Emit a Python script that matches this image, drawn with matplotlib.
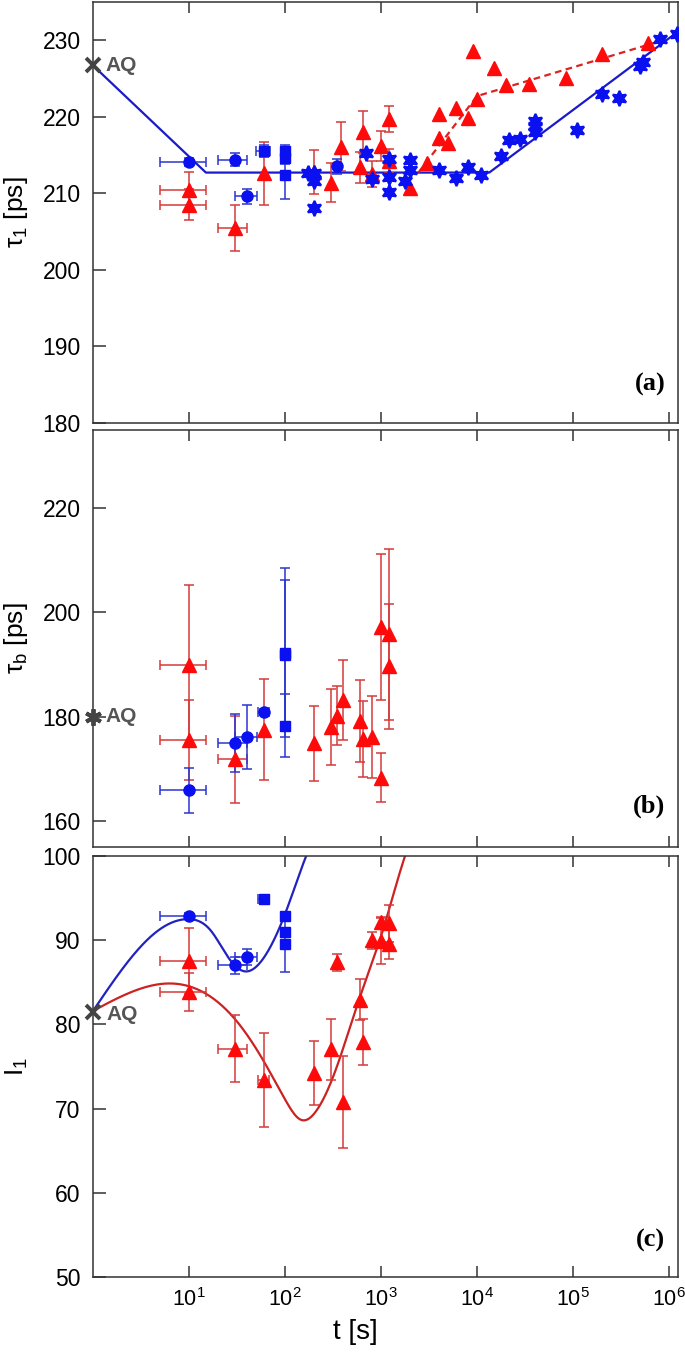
import numpy as np
import matplotlib
matplotlib.use("Agg")
import matplotlib.pyplot as plt

plt.rcParams['font.family'] = ['Liberation Sans', 'DejaVu Sans']
plt.rcParams['mathtext.fontset'] = 'custom'
plt.rcParams['mathtext.rm'] = 'Liberation Sans'
plt.rcParams['mathtext.it'] = 'Liberation Sans'
plt.rcParams['mathtext.bf'] = 'Liberation Sans:bold'

# ---------------- Panel (a): tau_1 ----------------
a_blue_circ_t = [10, 30, 40, 350]
a_blue_circ_v = [214.1, 214.4, 209.6, 213.5]
a_blue_circ_ye = [0.5, 0.9, 1.0, 1.0]
a_blue_circ_xlo = [5, 10, 10, 0]
a_blue_circ_xhi = [5, 10, 10.7, 0]

a_blue_sq_t = [60, 100, 100, 100]
a_blue_sq_v = [215.5, 215.5, 214.6, 212.4]
a_blue_sq_ye = [0.8, 0.8, 0.8, 3.1]
a_blue_sq_xlo = [10, 0, 0, 0]
a_blue_sq_xhi = [10, 0, 0, 0]

a_blue_star_t = [175, 200, 200, 200, 700, 800, 1200, 1200, 1200, 1770, 2000, 2000,
                 4000, 6000, 8000, 11000, 17700, 21500, 28000, 40000, 40000, 40000,
                 110000, 200000, 300000, 500000, 540000, 800000, 1200000]
a_blue_star_v = [212.6, 212.6, 211.6, 208.1, 215.3, 211.8, 214.5, 212.1, 210.1, 211.6, 214.3, 213.0,
                 213.1, 212.0, 213.4, 212.4, 214.9, 216.9, 217.1, 219.5, 218.8, 218.0,
                 218.3, 223.0, 222.5, 226.6, 227.1, 230.1, 230.8]

a_red_t = [10, 10, 30, 60, 200, 300, 380, 600, 650, 800, 1000, 1200, 1200,
           2000, 3000, 4000, 4000, 5000, 6000, 8000, 9000, 10000, 15000, 20000,
           35000, 85000, 200000, 600000]
a_red_v = [210.4, 208.5, 205.5, 212.6, 212.8, 211.4, 216.1, 213.4, 218.0, 212.5, 216.2, 219.7, 214.2,
           210.7, 213.9, 220.3, 217.2, 216.6, 221.2, 219.9, 228.6, 222.3, 226.4, 224.1,
           224.3, 225.1, 228.2, 229.6]
a_red_ye = [2.4, 2.0, 3.0, 4.1, 2.9, 2.5, 3.2, 2.0, 2.8, 1.7, 2.0, 1.7, 1.6,
            0, 0, 0, 0, 0, 0, 0, 0, 0, 0, 0, 0, 0, 0, 0]
a_red_xlo = [5, 5, 10] + [0] * 25
a_red_xhi = [5, 5, 10] + [0] * 25

a_fit_blue_t = [1, 15, 13400, 1.2e6]
a_fit_blue_v = [226.7, 212.7, 212.7, 231.0]
a_fit_red_t = [2450, 10000, 8.7e5]
a_fit_red_v = [212.7, 222.7, 230.0]
a_AQ = 226.7

# ---------------- Panel (b): tau_b ----------------
b_red_t = [10, 10, 30, 60, 200, 300, 350, 400, 600, 650, 800, 1000, 1000, 1200, 1200]
b_red_v = [189.9, 175.5, 171.8, 177.5, 174.9, 178.0, 180.2, 183.2, 179.2, 175.8, 176.1,
           197.2, 168.3, 195.8, 189.7]
b_red_ye = [15.3, 7.7, 8.4, 9.7, 7.2, 7.3, 5.6, 7.6, 7.8, 7.3, 7.8, 14.0, 4.7, 16.4, 12.0]
b_red_xlo = [5, 5, 10] + [0] * 12
b_red_xhi = [5, 5, 10] + [0] * 12

b_blue_circ_t = [10, 30, 40, 60]
b_blue_circ_v = [165.9, 174.9, 176.1, 180.9]
b_blue_circ_ye = [4.3, 5.6, 6.2, 0.5]
b_blue_circ_xlo = [5, 10, 10, 8]
b_blue_circ_xhi = [5, 10, 10.7, 8]

b_blue_sq_t = [100, 100, 100]
b_blue_sq_v = [192.3, 191.8, 178.3]
b_blue_sq_ye = [16.2, 14.5, 6.0]
b_AQ = 180.0

# ---------------- Panel (c): I_1 ----------------
c_blue_circ_t = [10, 30, 40]
c_blue_circ_v = [92.9, 87.0, 88.0]
c_blue_circ_ye = [0.3, 1.0, 0.9]
c_blue_circ_xlo = [5, 10, 10]
c_blue_circ_xhi = [5, 10, 10.7]

c_blue_sq_t = [60, 100, 100, 100]
c_blue_sq_v = [94.85, 92.9, 91.0, 89.6]
c_blue_sq_ye = [0.3, 0.5, 0.5, 3.4]
c_blue_sq_xlo = [8, 0, 0, 0]
c_blue_sq_xhi = [8, 0, 0, 0]

c_red_t = [10, 10, 30, 60, 200, 300, 350, 400, 600, 650, 800, 1000, 1000, 1200, 1200]
c_red_v = [87.5, 83.85, 77.1, 73.4, 74.2, 77.05, 87.4, 70.8, 82.95, 77.9, 90.0, 92.2, 89.9, 92.0, 89.6]
c_red_ye = [3.9, 2.2, 4.0, 5.6, 3.8, 3.6, 1.0, 5.5, 2.4, 2.7, 1.0, 0.5, 2.7, 2.2, 1.8]
c_red_xlo = [5, 5, 10, 8] + [0] * 11
c_red_xhi = [5, 5, 10, 8] + [0] * 11

# fitted curves: knot values (log10 t, I_1)
c_fit_blue_logt = [0, 0.3, 0.65, 1.0, 1.23, 1.4, 1.58, 1.79, 2.0, 2.22, 2.35]
c_fit_blue_v = [81.6, 86.5, 90.9, 92.5, 91.1, 88.1, 86.3, 88.1, 93.1, 100, 103.5]
c_fit_red_logt = [0, 0.3, 0.78, 1.16, 1.51, 1.79, 2.0, 2.16, 2.33, 2.5, 2.77, 3.02, 3.25, 3.4]
c_fit_red_v = [81.6, 83.35, 84.86, 83.75, 80.2, 75.4, 71.1, 68.7, 69.8, 73.75, 82.9, 91.2, 100, 104.5]
c_AQ = 81.5

xtick_vals = [1e1, 1e2, 1e3, 1e4, 1e5, 1e6]
xtick_labels = [r'$10^{1}$', r'$10^{2}$', r'$10^{3}$', r'$10^{4}$', r'$10^{5}$', r'$10^{6}$']

RED = '#ff0a0a'
RED_E = '#d43a3a'
BLUE = '#0a10f0'
BLUE_E = '#2a35d0'
GRAY = '#444444'


def natural_spline(xk, yk, xs):
    xk = np.asarray(xk, float); yk = np.asarray(yk, float)
    n = len(xk); h = np.diff(xk)
    A = np.zeros((n, n)); r = np.zeros(n)
    A[0, 0] = A[-1, -1] = 1
    for i in range(1, n - 1):
        A[i, i - 1] = h[i - 1]; A[i, i] = 2 * (h[i - 1] + h[i]); A[i, i + 1] = h[i]
        r[i] = 3 * ((yk[i + 1] - yk[i]) / h[i] - (yk[i] - yk[i - 1]) / h[i - 1])
    c = np.linalg.solve(A, r)
    b = (yk[1:] - yk[:-1]) / h - h * (2 * c[:-1] + c[1:]) / 3
    d = (c[1:] - c[:-1]) / (3 * h)
    idx = np.clip(np.searchsorted(xk, xs) - 1, 0, n - 2)
    dx = xs - xk[idx]
    return yk[idx] + b[idx] * dx + c[idx] * dx ** 2 + d[idx] * dx ** 3


def draw(ax, t, v, ye, xlo=None, xhi=None, marker='o', color=RED, ecolor=RED_E, ms=8):
    t = np.asarray(t, float); v = np.asarray(v, float); ye = np.asarray(ye, float)
    if xlo is None:
        xlo = np.zeros_like(t); xhi = np.zeros_like(t)
    xlo = np.asarray(xlo, float); xhi = np.asarray(xhi, float)
    hasx = (xlo > 0) | (xhi > 0)
    hasy = ye > 0
    kw = dict(fmt=marker, color=color, ecolor=ecolor, ms=ms, mec=color, capsize=3.4,
              elinewidth=1.1, capthick=1.1, zorder=3)
    m = hasx
    if m.any():
        ax.errorbar(t[m], v[m], yerr=ye[m], xerr=[xlo[m], xhi[m]], **kw)
    m = (~hasx) & hasy
    if m.any():
        ax.errorbar(t[m], v[m], yerr=ye[m], **kw)
    m = (~hasx) & (~hasy)
    if m.any():
        ax.plot(t[m], v[m], marker, color=color, ms=ms, mec=color, zorder=3)


fig = plt.figure(figsize=(6.85, 13.52), dpi=100)
W, H = 685.0, 1352.0
L = 93 / W; AW = 585 / W
ax_a = fig.add_axes([L, 1 - 422.7 / H, AW, 420.7 / H])
ax_b = fig.add_axes([L, 1 - 847 / H, AW, 417 / H])
ax_c = fig.add_axes([L, 1 - 1277 / H, AW, 421 / H])

for ax in (ax_a, ax_b, ax_c):
    ax.set_xscale('log')
    ax.set_xlim(1, 1.24e6)
    ax.set_xticks(xtick_vals)
    ax.minorticks_off()
    ax.tick_params(axis='x', which='both', direction='in', top=True, bottom=True,
                   length=8, width=1.1, color='#333333', labelsize=15.5, pad=8)
    ax.tick_params(axis='y', direction='in', left=True, right=False, length=9, width=1.1,
                   color='#333333', labelsize=16.5, pad=9)
    for s in ax.spines.values():
        s.set_color('#333333'); s.set_linewidth(1.1)

ax_a.set_xticklabels([]); ax_b.set_xticklabels([])
ax_c.set_xticklabels(xtick_labels)

AQ_X = 1.34

# ---- (a)
ax_a.set_ylim(180, 235)
ax_a.set_yticks([180, 190, 200, 210, 220, 230])
ax_a.plot(a_fit_blue_t, a_fit_blue_v, '-', color='#1a1acc', lw=1.6, zorder=2)
ax_a.plot(a_fit_red_t, a_fit_red_v, '--', color='#dd2222', lw=1.6, dashes=(3, 2), zorder=2)
draw(ax_a, a_red_t, a_red_v, a_red_ye, a_red_xlo, a_red_xhi, '^', RED, RED_E, 9.5)
draw(ax_a, a_blue_circ_t, a_blue_circ_v, a_blue_circ_ye, a_blue_circ_xlo, a_blue_circ_xhi, 'o', BLUE, BLUE_E, 8)
draw(ax_a, a_blue_sq_t, a_blue_sq_v, a_blue_sq_ye, a_blue_sq_xlo, a_blue_sq_xhi, 's', BLUE, BLUE_E, 7)
ax_a.plot(a_blue_star_t, a_blue_star_v, linestyle='none', marker=(6, 1, 0), color=BLUE,
          mec=BLUE, mew=1.5, ms=11, zorder=4)
ax_a.plot([1], [a_AQ], 'x', color=GRAY, ms=10, mew=2.8, clip_on=False, zorder=5)
ax_a.text(AQ_X, a_AQ, 'AQ', color='#555555', fontsize=15, fontweight='bold', va='center', ha='left')
ax_a.set_ylabel('τ$_1$ [ps]', fontsize=19)
ax_a.yaxis.set_label_coords(-0.108, 0.5)
ax_a.text(0.978, 0.09, '(a)', transform=ax_a.transAxes, ha='right', va='center',
          fontsize=19, fontweight='bold', family='Liberation Serif')

# ---- (b)
ax_b.set_ylim(155, 235)
ax_b.set_yticks([160, 180, 200, 220])
draw(ax_b, b_red_t, b_red_v, b_red_ye, b_red_xlo, b_red_xhi, '^', RED, RED_E, 9.5)
draw(ax_b, b_blue_circ_t, b_blue_circ_v, b_blue_circ_ye, b_blue_circ_xlo, b_blue_circ_xhi, 'o', BLUE, BLUE_E, 8)
draw(ax_b, b_blue_sq_t, b_blue_sq_v, b_blue_sq_ye, None, None, 's', BLUE, BLUE_E, 7)
ax_b.plot([1], [b_AQ], linestyle='none', marker=(6, 2, 0), color=GRAY, ms=12, mew=2.8, clip_on=False, zorder=5)
ax_b.text(AQ_X, b_AQ, 'AQ', color='#555555', fontsize=15, fontweight='bold', va='center', ha='left')
ax_b.set_ylabel('τ$_b$ [ps]', fontsize=19)
ax_b.yaxis.set_label_coords(-0.108, 0.5)
ax_b.text(0.978, 0.098, '(b)', transform=ax_b.transAxes, ha='right', va='center',
          fontsize=19, fontweight='bold', family='Liberation Serif')

# ---- (c)
ax_c.set_ylim(50, 100)
ax_c.set_yticks([50, 60, 70, 80, 90, 100])
lb = np.linspace(c_fit_blue_logt[0], c_fit_blue_logt[-1], 400)
ax_c.plot(10 ** lb, natural_spline(c_fit_blue_logt, c_fit_blue_v, lb), '-', color='#2222c0', lw=1.6, zorder=2)
lr = np.linspace(c_fit_red_logt[0], c_fit_red_logt[-1], 400)
ax_c.plot(10 ** lr, natural_spline(c_fit_red_logt, c_fit_red_v, lr), '-', color='#cc2222', lw=1.6, zorder=2)
draw(ax_c, c_red_t, c_red_v, c_red_ye, c_red_xlo, c_red_xhi, '^', RED, RED_E, 9.5)
draw(ax_c, c_blue_circ_t, c_blue_circ_v, c_blue_circ_ye, c_blue_circ_xlo, c_blue_circ_xhi, 'o', BLUE, BLUE_E, 8)
draw(ax_c, c_blue_sq_t, c_blue_sq_v, c_blue_sq_ye, c_blue_sq_xlo, c_blue_sq_xhi, 's', BLUE, BLUE_E, 7)
ax_c.plot([1], [c_AQ], 'x', color=GRAY, ms=10, mew=2.8, clip_on=False, zorder=5)
ax_c.text(AQ_X + 0.04, c_AQ - 0.3, 'AQ', color='#555555', fontsize=15, fontweight='bold', va='center', ha='left')
ax_c.set_ylabel('I$_1$', fontsize=19)
ax_c.yaxis.set_label_coords(-0.108, 0.5)
ax_c.set_xlabel('t [s]', fontsize=20, labelpad=6)
ax_c.xaxis.set_label_coords(0.448, -0.1)
ax_c.text(0.978, 0.086, '(c)', transform=ax_c.transAxes, ha='right', va='center',
          fontsize=19, fontweight='bold', family='Liberation Serif')

fig.savefig('out.png', dpi=100)
